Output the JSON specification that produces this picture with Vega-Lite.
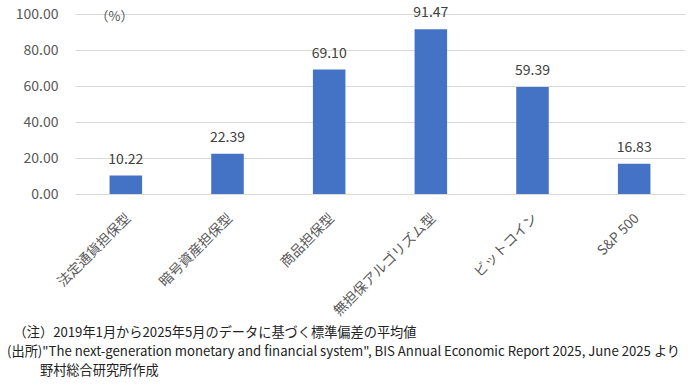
{
  "$schema": "https://vega.github.io/schema/vega-lite/v6.json",
  "width": 610,
  "height": 180,
  "autosize": {"type": "none"},
  "padding": {"left": 75, "top": 14, "right": 3, "bottom": 193},
  "background": "white",
  "config": {
    "view": {"stroke": null},
    "font": "Noto Sans CJK JP",
    "axis": {"labelFont": "Noto Sans CJK JP", "titleFont": "Noto Sans CJK JP"}
  },
  "title": {
    "text": [
      "\u200b\u3000（注）2019年1月から2025年5月のデータに基づく標準偏差の平均値",
      "(出所)\"The next-generation monetary and financial system\", BIS Annual Economic Report 2025, June 2025 より",
      "\u200b\u3000\u3000\u2002野村総合研究所作成"
    ],
    "orient": "bottom",
    "anchor": "start",
    "frame": "group",
    "dx": -68,
    "offset": 9,
    "fontSize": 13.2,
    "fontWeight": "normal",
    "color": "#222222",
    "lineHeight": 19,
    "font": "Noto Sans CJK JP"
  },
  "data": {
    "values": [
      {"category": "法定通貨担保型", "value": 10.22},
      {"category": "暗号資産担保型", "value": 22.39},
      {"category": "商品担保型", "value": 69.10},
      {"category": "無担保アルゴリズム型", "value": 91.47},
      {"category": "ビットコイン", "value": 59.39},
      {"category": "S&P 500", "value": 16.83}
    ]
  },
  "encoding": {
    "x": {
      "field": "category",
      "type": "nominal",
      "sort": null,
      "scale": {"paddingInner": 0.68, "paddingOuter": 0.34},
      "axis": {
        "title": null,
        "labelAngle": -45,
        "labelFontSize": 13.8,
        "labelColor": "#595959",
        "domain": false,
        "ticks": false,
        "labelPadding": 17,
        "labelOffset": -2,
        "labelLimit": 300
      }
    },
    "y": {
      "field": "value",
      "type": "quantitative",
      "scale": {"domain": [0, 100]},
      "axis": {
        "values": [0, 20, 40, 60, 80, 100],
        "format": ".2f",
        "title": "（%）",
        "titleAngle": 0,
        "titleX": 20,
        "titleY": 9,
        "titleFontSize": 13,
        "titleFontWeight": "normal",
        "titleColor": "#595959",
        "titleAlign": "left",
        "labelFontSize": 14,
        "labelColor": "#595959",
        "labelPadding": 17,
        "domain": false,
        "ticks": false,
        "gridColor": "#d9d9d9",
        "gridWidth": 1
      }
    }
  },
  "layer": [
    {"mark": {"type": "bar", "color": "#4472C4"}},
    {
      "mark": {"type": "text", "dy": -16, "fontSize": 14, "color": "#404040"},
      "encoding": {"text": {"field": "value", "type": "quantitative", "format": ".2f"}}
    }
  ]
}
